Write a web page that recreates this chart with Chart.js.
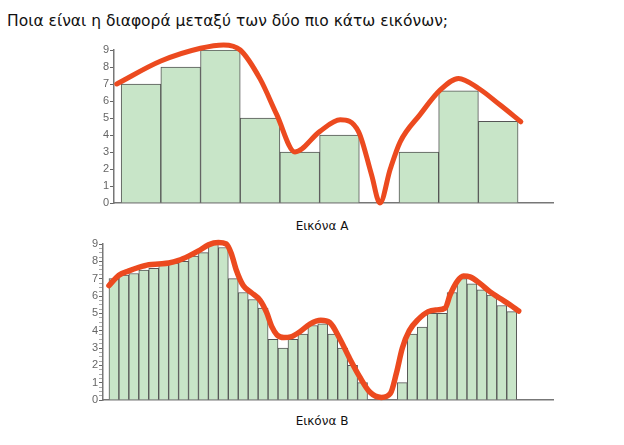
<!DOCTYPE html>
<html>
<head>
<meta charset="utf-8">
<script src="https://cdn.jsdelivr.net/npm/chart.js@4/dist/chart.umd.min.js"></script>
<style>
    body { margin: 0; background: #fff; font-family: 'DejaVu Sans', sans-serif; }
    #page { position: relative; width: 624px; height: 445px; overflow: hidden; }
    .title { position: absolute; left: 7px; top: 12px; font-size: 15.5px; color: #111; white-space: nowrap; }
    .caption { position: absolute; left: 260px; width: 124px; text-align: center; font-size: 12px; color: #111; }
    .box { position: absolute; }
</style>
</head>
<body>
<div id="page">
    <div class="title">Ποια είναι η διαφορά μεταξύ των δύο πιο κάτω εικόνων;</div>
    <div class="box" style="left:80px; top:40px; width:490px; height:175px;"><canvas id="chartA"></canvas></div>
    <div class="caption" style="top:219px;">Εικόνα Α</div>
    <div class="box" style="left:70px; top:235px; width:500px; height:175px;"><canvas id="chartB"></canvas></div>
    <div class="caption" style="top:414px;">Εικόνα Β</div>
</div>
<script>
// Εικόνα Α - ιστόγραμμα με 10 στήλες
const aBarValues = [7, 8, 9, 5, 3, 4, 0, 3, 6.6, 4.8];
// καμπύλη (x σε μονάδες στήλης)
const aCurveX = [-0.11, 1.0, 2.0, 2.58, 3.0, 3.5, 3.92, 4.38, 5.0, 5.52, 5.98, 6.31, 6.52, 6.78, 7.03, 7.53, 8.04, 8.5, 9.0, 9.55, 10.07];
const aCurveY = [7.0, 8.35, 9.1, 9.3, 9.0, 7.3, 5.2, 3.0, 4.2, 4.9, 4.2, 1.65, 0.0, 2.0, 3.6, 5.2, 6.65, 7.33, 6.75, 5.76, 4.78];

// Εικόνα Β - ιστόγραμμα με 41 στήλες
const bBarValues = [7.0, 7.2, 7.3, 7.5, 7.6, 7.8, 7.9, 8.0, 8.3, 8.5, 9.0, 8.8, 7.0, 6.2, 5.8, 5.3, 3.5, 3.0, 3.5, 3.8,
    4.3, 4.4, 3.8, 3.0, 2.0, 1.0, 0, 0, 0, 1.0, 3.8, 4.2, 5.0, 5.0, 6.2, 7.0, 6.7, 6.35, 6.05, 5.45, 5.1];
const bCurveX = [0, 1, 2, 3, 4, 5, 6, 7, 8, 9, 10, 11, 11.8, 12.3, 12.8, 13.5, 14.3, 15.2, 15.85, 16.4, 16.9, 17.6, 18.3, 19.2, 20.2,
    21.3, 22.2, 23.2, 24.2, 25.2, 26.2, 27.4, 28.3, 28.9, 29.5, 30.2, 31.1, 32.1, 33.0, 33.8, 34.3, 35.0, 35.65, 36.3, 37.3, 38.3, 39.3, 40.35, 41.2];
const bCurveY = [6.6, 7.2, 7.45, 7.65, 7.8, 7.85, 7.9, 8.05, 8.3, 8.6, 8.95, 9.08, 9.0, 8.45, 7.5, 6.6, 6.2, 5.75, 5.05, 4.2, 3.75, 3.6, 3.65, 3.94, 4.38,
    4.6, 4.47, 3.55, 2.4, 1.35, 0.48, 0.15, 0.38, 1.54, 3.0, 4.0, 4.65, 5.1, 5.2, 5.3, 6.06, 6.83, 7.15, 7.1, 6.73, 6.25, 5.87, 5.48, 5.13];

const yTickLabels = ['0', '1', '2', '3', '4', '5', '6', '7', '8', '9'];

const barFill = '#c8e5c8';
const barBorder = '#555';
const curveColor = '#ec4a1f';
const axisColor = '#777';

function makeChart(id, bars, curveX, curveY, opts) {
    const ctx = document.getElementById(id).getContext('2d');
    return new Chart(ctx, {
        type: 'bar',
        data: {
            datasets: [
                {
                    type: 'line',
                    data: curveX.map((x, i) => ({ x: x, y: curveY[i] })),
                    borderColor: curveColor,
                    borderWidth: opts.lineWidth,
                    pointRadius: 0,
                    cubicInterpolationMode: 'monotone',
                    borderCapStyle: 'round',
                    borderJoinStyle: 'round',
                    fill: false,
                    clip: false,
                    order: 0
                },
                {
                    type: 'bar',
                    data: bars.map((v, i) => ({ x: i + 0.5, y: v })),
                    backgroundColor: barFill,
                    borderColor: barBorder,
                    borderWidth: 1,
                    borderSkipped: 'bottom',
                    barPercentage: 1,
                    categoryPercentage: 1,
                    grouped: false,
                    order: 1
                }
            ]
        },
        options: {
            responsive: true,
            maintainAspectRatio: false,
            animation: false,
            layout: { padding: opts.padding },
            plugins: { legend: { display: false }, tooltip: { enabled: false } },
            scales: {
                x: {
                    type: 'linear',
                    min: opts.xMin,
                    max: opts.xMax,
                    offset: false,
                    grid: { display: false, offset: false, drawTicks: false },
                    border: { display: true, color: axisColor, width: 1.5 },
                    ticks: { display: false },
                    afterFit: function(scale) { scale.height = 2; }
                },
                y: {
                    min: 0,
                    max: 9,
                    grid: {
                        drawOnChartArea: false,
                        drawTicks: true,
                        tickLength: 4,
                        tickColor: function(c) {
                            return Number.isInteger(c.tick.value) ? '#666' : '#aaa';
                        }
                    },
                    border: { display: true, color: axisColor, width: 1.5 },
                    ticks: {
                        stepSize: opts.yStep,
                        autoSkip: false,
                        padding: 1,
                        color: '#666',
                        font: { family: 'Liberation Sans', size: 11 },
                        callback: function(value) {
                            return Number.isInteger(value) ? yTickLabels[value] : '';
                        }
                    },
                    afterFit: function(scale) { scale.width = opts.yWidth; }
                }
            }
        }
    });
}

makeChart('chartA', aBarValues, aCurveX, aCurveY, {
    lineWidth: 5,
    padding: { left: 0, right: 17, top: 10, bottom: 10 },
    xMin: -0.18, xMax: 10.88,
    yStep: 1,
    yWidth: 34
});

makeChart('chartB', bBarValues, bCurveX, bCurveY, {
    lineWidth: 5.5,
    padding: { left: 0, right: 17, top: 9, bottom: 8 },
    xMin: -0.6, xMax: 44.65,
    yStep: 0.25,
    yWidth: 33
});
</script>
</body>
</html>
